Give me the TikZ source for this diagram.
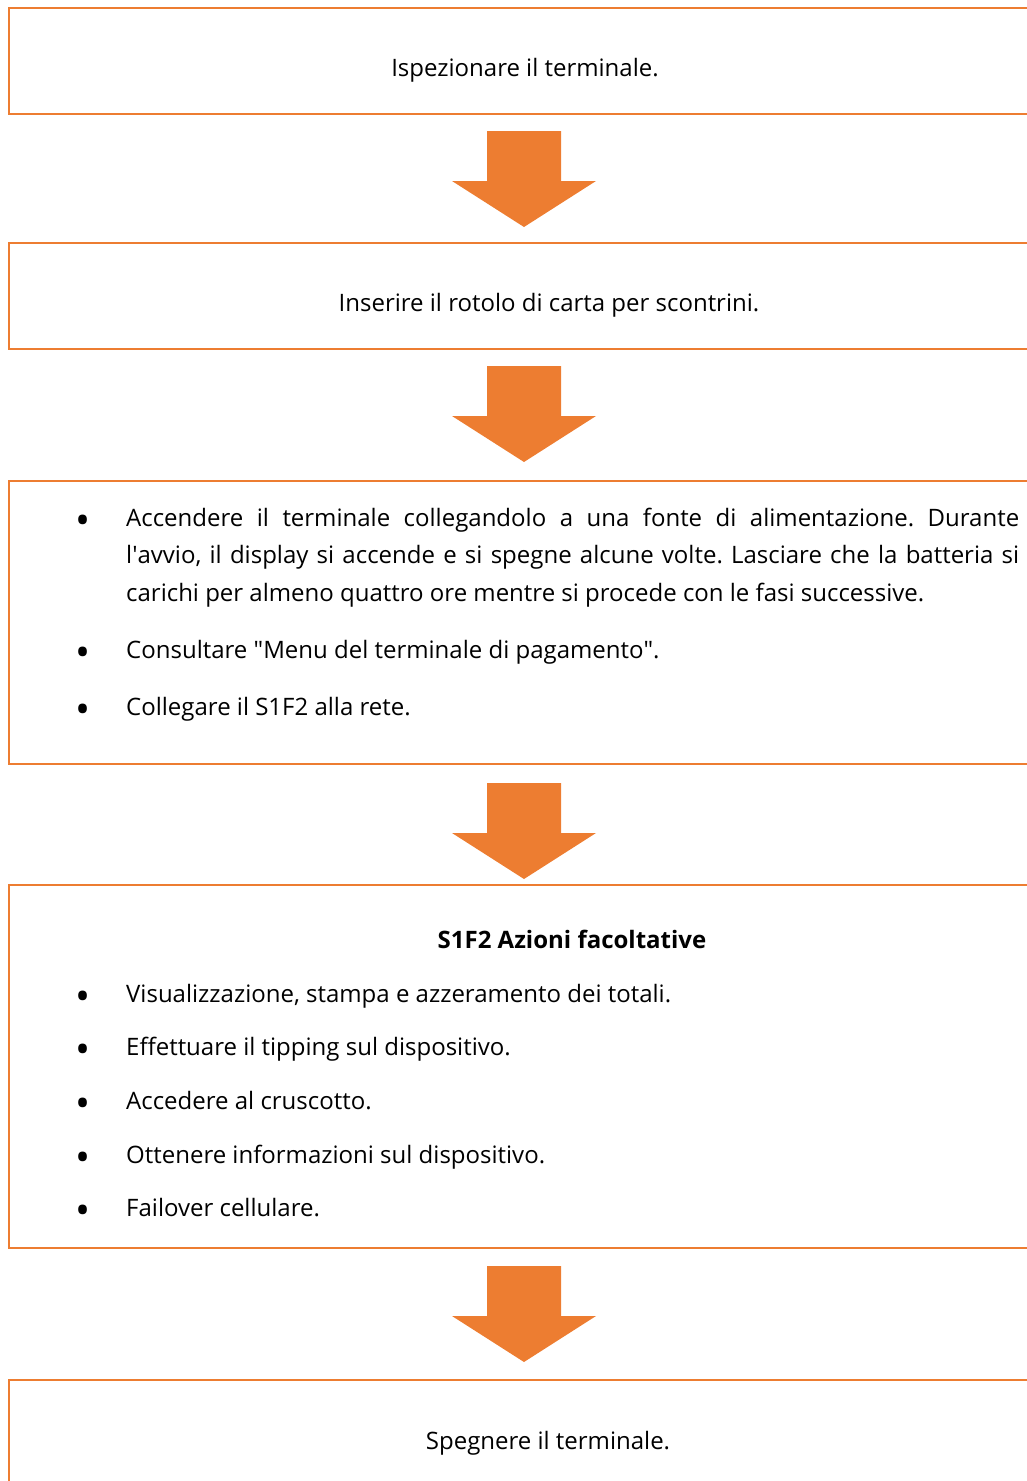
\documentclass[tikz,border=0pt]{standalone}
\usepackage{fontspec}
\setmainfont{Open Sans}
\usetikzlibrary{calc}
\definecolor{stepOrange}{HTML}{ED7D31}

\tikzset{
  stepbox/.style={draw=stepOrange,line width=2.5pt,anchor=north west,
    inner sep=0pt,outer sep=0pt,minimum width=1040pt},
  steptext/.style={anchor=base,inner sep=0pt},
  bulletmark/.style={anchor=center,inner sep=0pt,font=\fontsize{40}{40}\selectfont},
  itemtext/.style={anchor=base west,inner sep=0pt},
  arrowfill/.style={fill=stepOrange}
}
% block arrow pointing down, #1 = middle of its top edge
\newcommand{\stepArrow}[1]{%
  \fill[arrowfill] ($(#1)+(-37,0)$) -- ++(74,0) -- ++(0,50) -- ++(35,0)
    -- ++(-72,46) -- ++(-72,-46) -- ++(35,0) -- cycle;}

\begin{document}
\frenchspacing
\begin{tikzpicture}[x=1pt,y=-1pt,font=\fontsize{24}{37.5}\selectfont]
  \useasboundingbox (0,0) rectangle (1027,1481);
  \clip (0,0) rectangle (1027,1481);
  % boxes
  \node[stepbox,minimum height=106pt] (b1) at (9,8) {};
  \node[stepbox,minimum height=106pt] (b2) at (9,243) {};
  \node[stepbox,minimum height=283pt] (b3) at (9,481) {};
  \node[stepbox,minimum height=363pt] (b4) at (9,885) {};
  \node[stepbox,minimum height=160pt] (b5) at (9,1380) {};
  % texts
  \node[steptext] (t1) at (525,76) {Ispezionare il terminale.};
  \node[steptext] (t2) at (549,311) {Inserire il rotolo di carta per scontrini.};
  \node[itemtext,text width=893pt,align=justify] (t3) at (126,526)
    {Accendere il terminale collegandolo a una fonte di alimentazione. Durante\linebreak
     l\textquotesingle avvio, il display si accende e si spegne alcune volte. Lasciare che la batteria si\linebreak
     carichi per almeno quattro ore mentre si procede con le fasi successive.};
  \node[itemtext] (t4) at (126,658)
    {Consultare \textquotedbl Menu del terminale di pagamento\textquotedbl.};
  \node[itemtext] (t5) at (126,715) {Collegare il S1F2 alla rete.};
  \foreach \y in {526,658,715}
    \node[bulletmark] (m\y) at (83,\y-1) {\textbullet};
  \node[steptext,font=\fontsize{24}{37.5}\selectfont\bfseries] (t6) at (572,948)
    {S1F2 Azioni facoltative};
  \foreach \y/\txt in {1002/{Visualizzazione, stampa e azzeramento dei totali.},
                       1055/{Effettuare il tipping sul dispositivo.},
                       1109/{Accedere al cruscotto.},
                       1163/{Ottenere informazioni sul dispositivo.},
                       1216/{Failover cellulare.}}{
    \node[bulletmark] (m\y) at (83,\y-1) {\textbullet};
    \node[itemtext] (i\y) at (126,\y) {\txt};
  }
  \node[steptext] (t7) at (548,1449) {Spegnere il terminale.};
  % arrows between the boxes
  \coordinate (a1) at ($(b1.south west)+(515,17)$);
  \coordinate (a2) at ($(b2.south west)+(515,17)$);
  \coordinate (a3) at ($(b3.south west)+(515,19)$);
  \coordinate (a4) at ($(b4.south west)+(515,18)$);
  \foreach \a in {a1,a2,a3,a4}
    \stepArrow{\a};
\end{tikzpicture}
\end{document}
